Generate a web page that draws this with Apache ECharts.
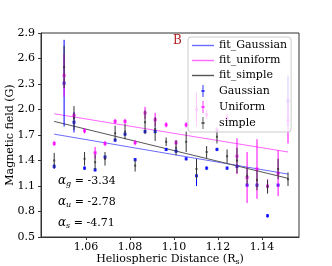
<!DOCTYPE html>
<html>
<head>
<meta charset="utf-8">
<script src="https://cdn.jsdelivr.net/npm/echarts@6/dist/echarts.min.js"></script>
<style>
html,body{margin:0;padding:0;background:#fff;}
#chart{width:332px;height:266px;}
</style>
</head>
<body>
<div id="chart"></div>
<script>
// ---- data ----
const xVals = [1.0455, 1.0500, 1.0545, 1.0593, 1.0641, 1.0686, 1.0732, 1.0777, 1.0823, 1.0868, 1.0914, 1.0964,
               1.1009, 1.1055, 1.1102, 1.1148, 1.1195, 1.1241, 1.1286, 1.1332, 1.1377, 1.1425, 1.1473, 1.1518];
const gaussVals = [1.33, 2.31, 1.85, 1.31, 1.29, 1.44, 1.64, 1.71, 1.41, 1.74, 1.74, 1.53,
                   1.51, 1.42, 1.22, 1.31, 1.53, 1.31, 1.33, 1.11, 1.11, 0.75, 1.11, 2.10];
const gaussErr  = [0.03, 0.51, 0.12, 0.02, 0.02, 0.02, 0.02, 0.02, 0.02, 0.02, 0.02, 0.02,
                   0.02, 0.02, 0.12, 0.02, 0.02, 0.02, 0.02, 0.02, 0.02, 0.02, 0.02, 0.30];
const uniVals   = [1.60, 2.40, 1.93, 1.75, 1.49, 1.60, 1.86, 1.86, 1.61, 1.96, 1.88, 1.82,
                   1.61, 1.82, 2.00, 1.94, 1.76, 1.90, 1.45, 1.20, 1.30, 1.10, 1.25, 1.87];
const uniErr    = [0.03, 0.25, 0.03, 0.03, 0.07, 0.03, 0.03, 0.03, 0.03, 0.07, 0.08, 0.03,
                   0.03, 0.03, 0.20, 0.05, 0.03, 0.05, 0.21, 0.30, 0.35, 0.08, 0.27, 0.27];
const simpleVals = [1.40, 2.50, 1.90, 1.42, 1.38, 1.42, 1.72, 1.74, 1.34, 1.85, 1.77, 1.62,
                    1.55, 1.62, 1.30, 1.50, 1.68, 1.45, 1.40, 1.22, 1.17, 1.09, 1.30, 1.18];
const simpleErr  = [0.09, 0.25, 0.14, 0.08, 0.09, 0.08, 0.09, 0.09, 0.07, 0.14, 0.14, 0.05,
                    0.09, 0.12, 0.12, 0.07, 0.08, 0.08, 0.15, 0.10, 0.12, 0.08, 0.12, 0.08];
const fitX = [1.0455, 1.1518];
const fitGaussianVals = [1.71, 1.24];
const fitUniformVals  = [1.95, 1.50];
const fitSimpleVals   = [1.86, 1.19];
const xTickValues = [1.06, 1.08, 1.10, 1.12, 1.14];
const yTickValues = [0.5, 0.8, 1.1, 1.4, 1.7, 2.0, 2.3, 2.6, 2.9];
const seriesNames = ['fit_Gaussian', 'fit_uniform', 'fit_simple', 'Gaussian', 'Uniform', 'simple'];
const alphaLabels = [['g', '-3.34'], ['u', '-2.78'], ['s', '-4.71']];
const panelLabel = 'B';

// ---- chart ----
const FONT = 'DejaVu Serif';
const chart = echarts.init(document.getElementById('chart'), null, {renderer: 'canvas'});

function pairs(xs, ys) { return xs.map((x, i) => [x, ys[i]]); }
function triples(xs, ys, es) { return xs.map((x, i) => [x, ys[i], es[i]]); }

function errRender(color) {
  return function (params, api) {
    const x = api.value(0), y = api.value(1), e = api.value(2);
    const p0 = api.coord([x, y - e]);
    const p1 = api.coord([x, y + e]);
    return {type: 'line', shape: {x1: p0[0], y1: p0[1], x2: p1[0], y2: p1[1]},
            style: {stroke: color, lineWidth: 1}};
  };
}

const lineIcon = 'path://M0,0h22v1.4h-22z';
const errIcon = 'path://M1,0h1v12h-1z M0,5h3v2h-3z';

const colG = '#0000ff', colU = '#ff00ff', colS = '#333333';
const colFG = '#6b6bff', colFU = '#ff66ff', colFS = '#555555';

function errSeries(xs, ys, es, color, z) {
  return {type: 'custom', data: triples(xs, ys, es), renderItem: errRender(color),
          encode: {x: 0, y: 1}, z: z, silent: true};
}
function markSeries(name, xs, ys, color, size, z) {
  return {name: name, type: 'scatter', data: pairs(xs, ys), symbol: 'rect', symbolSize: size,
          itemStyle: {color: color}, z: z, silent: true};
}

const option = {
  backgroundColor: '#ffffff',
  animation: false,
  grid: {left: 41, right: 33, top: 33, bottom: 29, show: true, borderColor: '#333', borderWidth: 1,
         containLabel: false, outerBoundsMode: 'none'},
  xAxis: {
    type: 'value', min: 1.0395, max: 1.1568,
    name: '{n|Heliospheric Distance (R}{s|s}{n|)}',
    nameLocation: 'middle', nameGap: 16, nameMoveOverlap: false,
    nameTextStyle: {rich: {
      n: {fontFamily: FONT, fontSize: 11, color: '#000'},
      s: {fontFamily: FONT, fontSize: 8, color: '#000', verticalAlign: 'bottom', padding: [5, 0, 0, 0]}
    }},
    axisLine: {show: true, onZero: false, lineStyle: {color: '#333'}},
    axisTick: {show: true, length: 3, inside: false, customValues: xTickValues, lineStyle: {color: '#333'}},
    axisLabel: {customValues: xTickValues, margin: 5, fontFamily: FONT, fontSize: 11, color: '#000',
                formatter: v => v.toFixed(2)},
    splitLine: {show: false}
  },
  yAxis: {
    type: 'value', min: 0.5, max: 2.9,
    name: 'Magnetic field (G)', nameLocation: 'middle', nameGap: 25, nameMoveOverlap: false,
    nameTextStyle: {fontFamily: FONT, fontSize: 11, color: '#000'},
    axisLine: {show: true, onZero: false, lineStyle: {color: '#333'}},
    axisTick: {show: true, length: 3, inside: false, customValues: yTickValues, lineStyle: {color: '#333'}},
    axisLabel: {customValues: yTickValues, margin: 6, fontFamily: FONT, fontSize: 11, color: '#000',
                formatter: v => v.toFixed(1)},
    splitLine: {show: false}
  },
  legend: {
    left: 188, top: 37, orient: 'vertical', z: 20,
    itemWidth: 22, itemHeight: 12, itemGap: 4,
    padding: [3, 4, 3, 4],
    backgroundColor: 'rgba(255,255,255,0.8)', borderColor: '#cccccc', borderWidth: 1, borderRadius: 3,
    textStyle: {fontFamily: FONT, fontSize: 11, color: '#000'},
    data: [
      {name: seriesNames[0], icon: lineIcon},
      {name: seriesNames[1], icon: lineIcon},
      {name: seriesNames[2], icon: lineIcon},
      {name: seriesNames[3], icon: errIcon},
      {name: seriesNames[4], icon: errIcon},
      {name: seriesNames[5], icon: errIcon}
    ]
  },
  series: [
    {name: seriesNames[0], type: 'line', data: pairs(fitX, fitGaussianVals), showSymbol: false, symbol: 'none',
     lineStyle: {color: colFG, width: 1}, itemStyle: {color: colFG}, z: 3},
    {name: seriesNames[1], type: 'line', data: pairs(fitX, fitUniformVals), showSymbol: false, symbol: 'none',
     lineStyle: {color: colFU, width: 1}, itemStyle: {color: colFU}, z: 3},
    {name: seriesNames[2], type: 'line', data: pairs(fitX, fitSimpleVals), showSymbol: false, symbol: 'none',
     lineStyle: {color: colFS, width: 1}, itemStyle: {color: colFS}, z: 3},
    errSeries(xVals, gaussVals, gaussErr, colG, 4),
    markSeries(seriesNames[3], xVals, gaussVals, colG, 3, 5),
    errSeries(xVals, uniVals, uniErr, colU, 6),
    markSeries(seriesNames[4], xVals, uniVals, colU, 3, 7),
    errSeries(xVals, simpleVals, simpleErr, colS, 8),
    markSeries(seriesNames[5], xVals, simpleVals, colS, 2, 9)
  ],
  graphic: [
    {type: 'text', left: 173, top: 35, z: 100,
     style: {text: panelLabel, fill: '#b22222', font: '12px "DejaVu Serif"'}}
  ].concat(alphaLabels.map((a, i) => ({
    type: 'text', left: 58, top: 175 + i * 21, z: 100,
    style: {
      text: '{a|α}{s|' + a[0] + '}{t| = ' + a[1] + '}',
      rich: {
        a: {fontFamily: FONT, fontStyle: 'italic', fontSize: 12, fill: '#000'},
        s: {fontFamily: FONT, fontStyle: 'italic', fontSize: 8, fill: '#000', padding: [6, 0, 0, 0]},
        t: {fontFamily: FONT, fontSize: 11, fill: '#000'}
      }
    }
  })))
};
chart.setOption(option);
</script>
</body>
</html>
